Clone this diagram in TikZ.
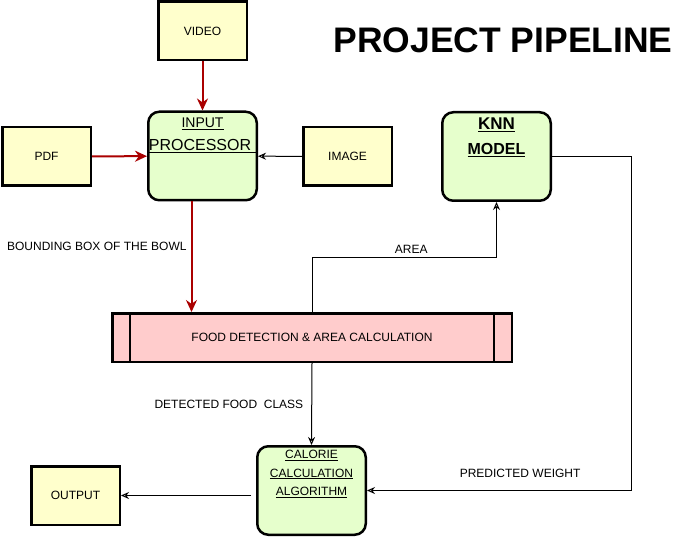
\documentclass[tikz,border=0pt]{standalone}
\usepackage{fontspec}
\setmainfont{Liberation Sans}
\usepackage{xcolor}
\usepackage{tikz}
\usetikzlibrary{shapes.geometric, arrows.meta, positioning, calc}
\definecolor{srcyellow}{HTML}{FFFFCC}
\definecolor{modgreen}{HTML}{E6FFCC}
\definecolor{procpink}{HTML}{FFCCCC}
\definecolor{arrowred}{HTML}{AA0000}
\tikzstyle{source} = [rectangle, draw=black, line width=2.5pt, fill=srcyellow, minimum width=88.5, minimum height=58.5, text centered, font=\fontsize{12}{14}\selectfont]
\tikzstyle{module} = [rectangle, rounded corners=11pt, draw=black, line width=2.5pt, fill=modgreen, minimum width=108.5, minimum height=88.5]
\tikzstyle{process} = [rectangle, draw=black, line width=2.5pt, fill=procpink, minimum width=399.5, minimum height=48.5, text centered, font=\fontsize{12}{14}\selectfont]
\tikzstyle{redarrow} = [line width=2pt, draw=arrowred, -{Stealth[length=12pt,width=11pt]}]
\tikzstyle{arrow} = [line width=1pt, -{Stealth[open,length=8pt,width=7pt]}]
\tikzstyle{lbl} = [font=\fontsize{12}{14}\selectfont, inner sep=2pt]

\begin{document}
\begin{tikzpicture}[x=1pt, y=-1pt]
\useasboundingbox (0,0) rectangle (679,537);

% Title
\node (title) [anchor=base, font=\fontsize{35.5}{40}\selectfont\bfseries, inner sep=0] at (503,53) {PROJECT PIPELINE};

% Inputs
\node (video) [source] at (202.5,31) {VIDEO};
\node (pdf) [source] at (46.5,156.5) {PDF};
\node (image) [source] at (347.5,156.5) {IMAGE};

% Main blocks
\node (inproc) [module, label={[anchor=north, yshift=-7pt, inner sep=0, align=center, font=\fontsize{14}{23}\selectfont]north:\underline{INPUT}\\{\fontsize{16}{23}\selectfont\underline{PROCESSOR\hspace{5pt}}}}] at (202.5,156) {};
\node (knn) [module, label={[anchor=north, yshift=-6.5pt, inner sep=0, align=center, font=\fontsize{17}{25}\selectfont\bfseries]north:\underline{KNN}\\{\fontsize{16}{25}\selectfont\bfseries\underline{MODEL}}}] at (496.5,156.5) {};
\node (food) [process] at (312,337.5) {FOOD DETECTION \& AREA CALCULATION};
\draw [line width=2.5pt] ([xshift=19]food.north west) -- ([xshift=19]food.south west);
\draw [line width=2.5pt] ([xshift=-19]food.north east) -- ([xshift=-19]food.south east);
\node (calorie) [module, label={[anchor=north, yshift=-5pt, inner sep=0, align=center, font=\fontsize{12}{18.5}\selectfont]north:\underline{CALORIE}\\\underline{CALCULATION}\\\underline{ALGORITHM}}] at (311.5,490.5) {};
\node (output) [source] at (75.5,495.5) {OUTPUT};

% Arrows
\draw [redarrow] (video) -- (inproc);
\draw [redarrow] (pdf) -- (inproc);
\draw [arrow] (image) -- (inproc);
\draw [redarrow] ([xshift=-11]inproc.south) -- node[lbl, pos=0.41, anchor=east, xshift=-2pt] {BOUNDING BOX OF THE BOWL} ([xshift=-11]inproc.south |- food.north);
\draw [arrow] (food.north) -- ++(0,-55) -| node[lbl, pos=0.25, above, xshift=7pt, yshift=1pt] {AREA} (knn.south);
\draw [arrow] (knn.east) -- ++(79,0) |- node[lbl, pos=0.71, above, yshift=10pt] {PREDICTED WEIGHT} (calorie.east);
\draw [arrow] (food.south) -- node[lbl, left, xshift=-6pt] {DETECTED FOOD\ \ CLASS} (calorie.north);
\draw [arrow] ([xshift=-5]calorie.west |- output.east) -- (output.east);

\end{tikzpicture}
\end{document}
